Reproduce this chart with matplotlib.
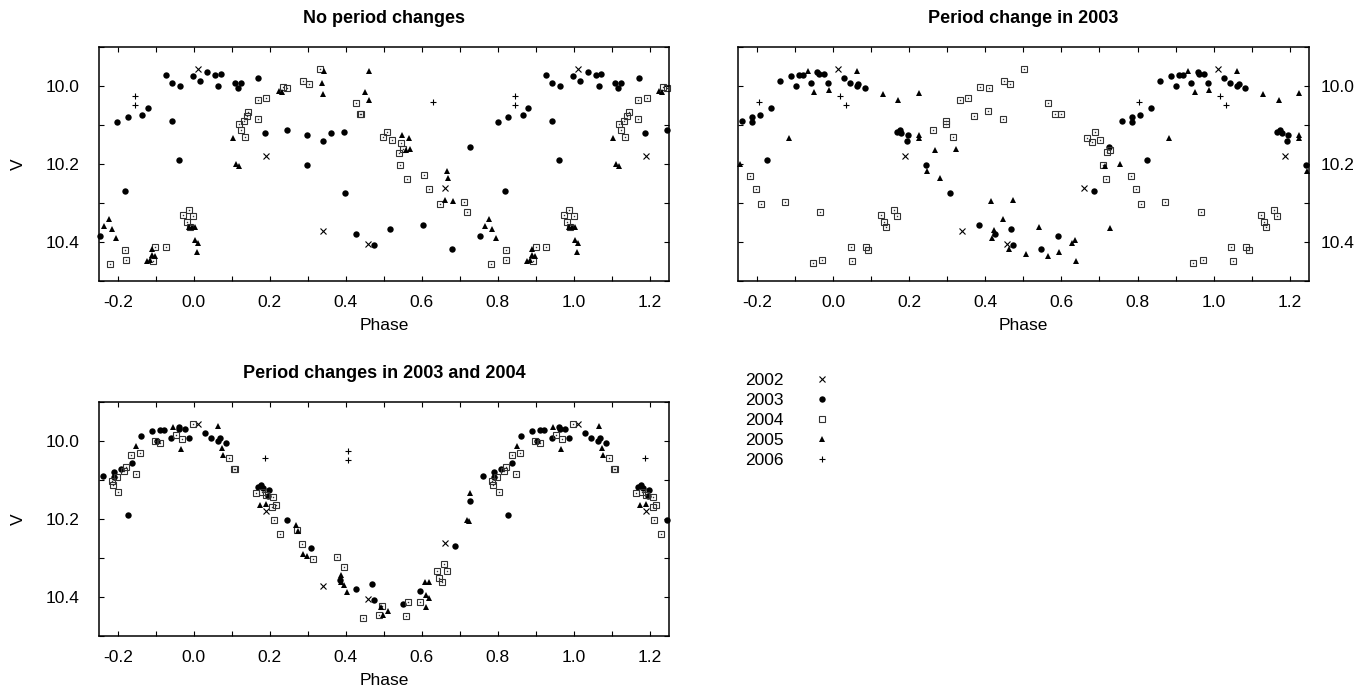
"""
Phased V light curves for three ephemerides (2002-2006 seasons).
"""
import numpy as np
import matplotlib
matplotlib.use("Agg")
import matplotlib.pyplot as plt
from matplotlib.lines import Line2D
from matplotlib.ticker import MultipleLocator, FormatStrFormatter

plt.rcParams['font.family'] = ['Liberation Sans', 'DejaVu Sans']

TITLES = ["No period changes", "Period change in 2003", "Period changes in 2003 and 2004"]
YEARS = ["2002", "2003", "2004", "2005", "2006"]

# 2002 season, same phases in every panel
ph02 = [0.011, 0.189, 0.339, 0.458, 0.660]
v02 = [9.957, 10.180, 10.373, 10.404, 10.261]

# ---- panel 1: no period changes ----
nochg_ph03 = [0.016, 0.036, 0.057, 0.065, 0.072, 0.109, 0.116, 0.125, 0.170, 0.188,
              0.246, 0.297, 0.297, 0.339, 0.361, 0.396, 0.398, 0.427, 0.474, 0.515,
              0.604, 0.679, 0.727, 0.753, 0.799, 0.819, 0.826, 0.865, 0.879, 0.926,
              0.943, 0.943, 0.961, 0.964, 0.998]
nochg_v03 = [9.988, 9.964, 9.973, 10.000, 9.969, 9.992, 10.005, 9.992, 9.980, 10.121,
             10.113, 10.126, 10.204, 10.142, 10.120, 10.118, 10.275, 10.379, 10.409, 10.367,
             10.357, 10.417, 10.156, 10.384, 10.093, 10.269, 10.079, 10.074, 10.056, 9.972,
             9.992, 10.089, 10.189, 10.000, 9.976]
nochg_ph04 = [0.119, 0.123, 0.131, 0.135, 0.139, 0.144, 0.169, 0.169, 0.191, 0.234,
              0.245, 0.288, 0.302, 0.332, 0.427, 0.438, 0.441, 0.499, 0.507, 0.521,
              0.541, 0.543, 0.544, 0.550, 0.562, 0.606, 0.618, 0.647, 0.710, 0.719,
              0.781, 0.820, 0.821, 0.893, 0.899, 0.927, 0.973, 0.982, 0.988, 0.989, 0.999]
nochg_v04 = [10.099, 10.113, 10.090, 10.130, 10.077, 10.066, 10.036, 10.084, 10.032, 10.002,
             10.005, 9.987, 9.995, 9.958, 10.044, 10.072, 10.072, 10.131, 10.119, 10.140,
             10.171, 10.202, 10.146, 10.162, 10.238, 10.229, 10.264, 10.302, 10.298, 10.324,
             10.456, 10.421, 10.445, 10.449, 10.413, 10.413, 10.332, 10.350, 10.317, 10.362, 10.334]
nochg_ph05 = [0.002, 0.004, 0.009, 0.010, 0.102, 0.111, 0.119, 0.225, 0.231, 0.338,
              0.339, 0.343, 0.451, 0.460, 0.460, 0.548, 0.559, 0.566, 0.569, 0.662,
              0.665, 0.668, 0.681, 0.765, 0.776, 0.784, 0.796, 0.876, 0.884, 0.889,
              0.889, 0.898, 0.988, 0.996]
nochg_v05 = [10.394, 10.362, 10.427, 10.402, 10.133, 10.200, 10.205, 10.014, 10.017, 9.993,
             10.022, 9.962, 10.017, 9.962, 10.037, 10.126, 10.165, 10.134, 10.163, 10.292,
             10.218, 10.235, 10.296, 10.360, 10.342, 10.368, 10.389, 10.448, 10.446, 10.419,
             10.433, 10.436, 10.362, 10.362]
nochg_ph06 = [0.629, 0.846, 0.846]
nochg_v06 = [10.042, 10.027, 10.049]

# ---- panel 2: period change in 2003 ----
chg03_ph03 = [0.027, 0.044, 0.062, 0.066, 0.082, 0.167, 0.175, 0.179, 0.194, 0.196,
              0.244, 0.307, 0.384, 0.424, 0.467, 0.473, 0.547, 0.592, 0.686, 0.725,
              0.759, 0.785, 0.785, 0.806, 0.825, 0.835, 0.860, 0.889, 0.902, 0.910,
              0.919, 0.940, 0.958, 0.961, 0.975, 0.986]
chg03_v03 = [9.980, 9.993, 10.000, 9.995, 10.006, 10.119, 10.113, 10.121, 10.142, 10.126,
             10.203, 10.275, 10.356, 10.379, 10.367, 10.409, 10.417, 10.384, 10.269, 10.156,
             10.089, 10.079, 10.092, 10.074, 10.189, 10.056, 9.988, 9.976, 10.000, 9.973,
             9.973, 9.993, 9.964, 9.971, 9.971, 9.993]
chg03_ph04 = [0.046, 0.050, 0.086, 0.092, 0.125, 0.132, 0.139, 0.160, 0.167, 0.261,
              0.297, 0.297, 0.314, 0.333, 0.354, 0.371, 0.386, 0.408, 0.409, 0.447,
              0.450, 0.465, 0.501, 0.564, 0.582, 0.599, 0.668, 0.681, 0.688, 0.702,
              0.708, 0.718, 0.721, 0.728, 0.782, 0.797, 0.810, 0.872, 0.946, 0.966, 0.971]
chg03_v04 = [10.414, 10.449, 10.413, 10.421, 10.332, 10.350, 10.361, 10.317, 10.334, 10.113,
             10.090, 10.099, 10.131, 10.036, 10.031, 10.077, 10.002, 10.065, 10.005, 10.084,
             9.987, 9.995, 9.958, 10.044, 10.072, 10.072, 10.133, 10.145, 10.119, 10.140,
             10.202, 10.239, 10.170, 10.165, 10.230, 10.265, 10.302, 10.298, 10.455, 10.324, 10.445]
chg03_ph05 = [0.062, 0.131, 0.171, 0.224, 0.225, 0.226, 0.246, 0.267, 0.281, 0.322,
              0.415, 0.418, 0.422, 0.424, 0.445, 0.462, 0.473, 0.508, 0.542, 0.565,
              0.594, 0.627, 0.636, 0.637, 0.715, 0.728, 0.754, 0.883, 0.934, 0.950, 0.989]
chg03_v05 = [9.962, 10.022, 10.037, 10.018, 10.127, 10.133, 10.218, 10.165, 10.236, 10.163,
             10.296, 10.389, 10.370, 10.376, 10.342, 10.418, 10.292, 10.432, 10.361, 10.436,
             10.427, 10.402, 10.396, 10.448, 10.205, 10.364, 10.200, 10.133, 9.962, 10.016, 10.012]
chg03_ph06 = [0.018, 0.032, 0.805]
chg03_v06 = [10.027, 10.049, 10.042]

# ---- panel 3: period changes in 2003 and 2004 ----
chg34_ph03 = [0.030, 0.046, 0.064, 0.068, 0.084, 0.168, 0.177, 0.181, 0.196, 0.198,
              0.246, 0.309, 0.385, 0.427, 0.469, 0.475, 0.550, 0.594, 0.688, 0.726,
              0.762, 0.789, 0.789, 0.808, 0.827, 0.838, 0.862, 0.890, 0.904, 0.911,
              0.921, 0.941, 0.960, 0.962, 0.976, 0.988]
chg34_v03 = [9.980, 9.994, 10.000, 9.994, 10.005, 10.119, 10.113, 10.121, 10.142, 10.126,
             10.204, 10.275, 10.356, 10.379, 10.367, 10.409, 10.417, 10.384, 10.269, 10.155,
             10.089, 10.080, 10.092, 10.073, 10.189, 10.056, 9.988, 9.974, 10.000, 9.973,
             9.973, 9.994, 9.964, 9.971, 9.971, 9.994]
chg34_ph04 = [0.092, 0.106, 0.108, 0.163, 0.179, 0.189, 0.207, 0.208, 0.210, 0.217,
              0.228, 0.272, 0.285, 0.313, 0.376, 0.395, 0.446, 0.486, 0.496, 0.558,
              0.563, 0.594, 0.639, 0.646, 0.653, 0.659, 0.665, 0.785, 0.787, 0.797,
              0.802, 0.817, 0.822, 0.836, 0.848, 0.858, 0.898, 0.911, 0.954, 0.968, 0.998]
chg34_v04 = [10.045, 10.072, 10.072, 10.135, 10.132, 10.140, 10.169, 10.145, 10.203, 10.165,
             10.239, 10.229, 10.264, 10.303, 10.298, 10.323, 10.455, 10.445, 10.422, 10.448,
             10.414, 10.413, 10.333, 10.352, 10.362, 10.316, 10.333, 10.102, 10.113, 10.092,
             10.130, 10.077, 10.066, 10.037, 10.084, 10.032, 10.000, 10.005, 9.986, 9.995, 9.958]
chg34_ph05 = [0.065, 0.075, 0.077, 0.175, 0.189, 0.268, 0.274, 0.288, 0.297, 0.386,
              0.388, 0.394, 0.403, 0.492, 0.498, 0.510, 0.608, 0.611, 0.612, 0.618,
              0.619, 0.719, 0.725, 0.727, 0.849, 0.946, 0.967]
chg34_v05 = [9.962, 10.018, 10.037, 10.165, 10.163, 10.217, 10.232, 10.290, 10.294, 10.344,
             10.362, 10.369, 10.388, 10.425, 10.447, 10.436, 10.362, 10.425, 10.395, 10.402,
             10.362, 10.204, 10.206, 10.135, 10.014, 9.964, 10.021]
chg34_ph06 = [0.187, 0.405, 0.405]
chg34_v06 = [10.043, 10.026, 10.049]

# marker style per season
STYLES = {
    "2002": dict(marker='x', color='black', ms=4.5, mew=0.8, ls='none'),
    "2003": dict(marker='o', color='black', ms=4.6, mew=0, ls='none'),
    "2004": dict(marker='s', mfc='none', mec='#333333', ms=4.8, mew=0.8, ls='none'),
    "2005": dict(marker='^', color='black', ms=4.0, mew=0, ls='none'),
    "2006": dict(marker='+', color='black', ms=5.0, mew=0.8, ls='none'),
}


def fold(ph, v):
    """Repeat phased points one cycle either side, keep -0.25..1.25."""
    ph = np.asarray(ph)
    v = np.asarray(v)
    x = np.concatenate([ph - 1, ph, ph + 1])
    y = np.tile(v, 3)
    keep = (x >= -0.25) & (x <= 1.25)
    return x[keep], y[keep]


def plot_season(ax, year, ph, v):
    x, y = fold(ph, v)
    ax.plot(x, y, clip_on=False, **STYLES[year])
    if year == "2004":
        # small dot inside the open box
        ax.plot(x, y, ls='none', marker='s', ms=1.0, color='#333333', mew=0, clip_on=False)


def style_axes(ax, right=False):
    ax.set_xlim(-0.25, 1.25)
    ax.set_ylim(10.5, 9.9)
    ax.xaxis.set_major_locator(MultipleLocator(0.2))
    ax.xaxis.set_minor_locator(MultipleLocator(0.1))
    ax.yaxis.set_major_locator(MultipleLocator(0.2))
    ax.yaxis.set_minor_locator(MultipleLocator(0.1))
    ax.xaxis.set_major_formatter(FormatStrFormatter('%.1f'))
    ax.yaxis.set_major_formatter(FormatStrFormatter('%.1f'))
    ax.tick_params(which='both', direction='in', top=True, right=True,
                   length=3.6, width=0.8, labelsize=12.5)
    ax.tick_params(axis='x', pad=10)
    if right:
        ax.tick_params(axis='y', labelleft=False, labelright=True, pad=9)
    else:
        ax.tick_params(axis='y', pad=14)
    for sp in ax.spines.values():
        sp.set_linewidth(1.1)
    ax.set_xlabel('Phase', fontsize=12.5, va='center')
    ax.xaxis.set_label_coords(0.5, -0.188)


fig = plt.figure(figsize=(13.72, 6.93), dpi=100)
W, H = 1372.0, 693.0
aw, ah = 570.3 / W, 234.3 / H
ax1 = fig.add_axes([98.7 / W, 1 - 281 / H, aw, ah])
ax2 = fig.add_axes([738.3 / W, 1 - 281 / H, aw, ah])
ax3 = fig.add_axes([98.7 / W, 1 - 636 / H, aw, ah])

panels = [
    (ax1, [ph02, nochg_ph03, nochg_ph04, nochg_ph05, nochg_ph06],
          [v02, nochg_v03, nochg_v04, nochg_v05, nochg_v06]),
    (ax2, [ph02, chg03_ph03, chg03_ph04, chg03_ph05, chg03_ph06],
          [v02, chg03_v03, chg03_v04, chg03_v05, chg03_v06]),
    (ax3, [ph02, chg34_ph03, chg34_ph04, chg34_ph05, chg34_ph06],
          [v02, chg34_v03, chg34_v04, chg34_v05, chg34_v06]),
]

for i, (ax, phs, vs) in enumerate(panels):
    for year, ph, v in zip(YEARS, phs, vs):
        plot_season(ax, year, ph, v)
    style_axes(ax, right=(ax is ax2))
    ax.set_title(TITLES[i], fontsize=13, fontweight='bold', pad=17)

for ax in (ax1, ax3):
    ax.set_ylabel('V', fontsize=12.5, va='center')
    ax.yaxis.set_label_coords(-0.1415, 0.5)

# legend, labels first then symbol
handles = [Line2D([], [], **STYLES[y]) for y in YEARS]
fig.legend(handles, YEARS, loc='upper left', bbox_to_anchor=(745 / W, 1 - 373 / H),
           frameon=False, markerfirst=False, handlelength=1.0, handletextpad=1.7,
           labelspacing=0.28, borderpad=0, borderaxespad=0, fontsize=12.5)

fig.savefig('out.png', dpi=100)
